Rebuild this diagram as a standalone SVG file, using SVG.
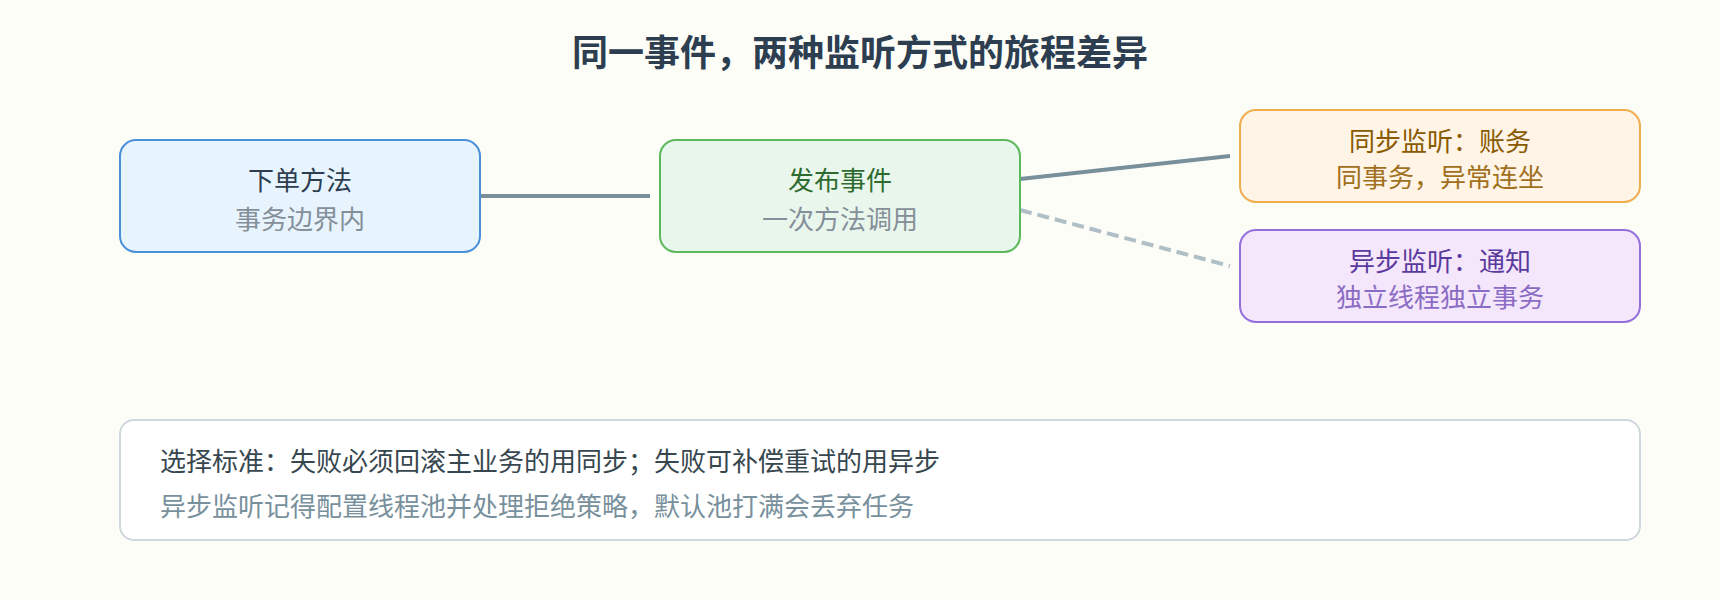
<svg xmlns="http://www.w3.org/2000/svg" width="1720" height="600" viewBox="0 0 1720 600">
<style>
text{font-family:"Noto Sans CJK SC","Noto Sans",sans-serif;text-anchor:middle}
.title{font-size:36px;font-weight:bold;fill:#2c3e50}
.t{font-size:26px}
.sub{font-size:26px;fill:#848f99}
.link{stroke:#78909c;stroke-width:4;fill:none}
.dash{stroke:#b0bec5;stroke-width:4;stroke-dasharray:12 6;fill:none}
</style>
<rect width="1720" height="600" fill="#fdfdf8"/>
<text class="title" x="860" y="66">同一事件，两种监听方式的旅程差异</text>
<g id="connectors">
<line class="link" x1="480" y1="196" x2="650" y2="196"/>
<line class="link" x1="1020" y1="179" x2="1230" y2="156"/>
<line class="dash" x1="1020" y1="210" x2="1230" y2="266"/>
</g>
<g id="node-order">
<rect x="120" y="140" width="360" height="112" rx="16" fill="#e8f4fd" stroke="#4a90d9" stroke-width="2"/>
<text class="t" x="300" y="190" fill="#2c3e50">下单方法</text>
<text class="sub" x="300" y="229">事务边界内</text>
</g>
<g id="node-publish">
<rect x="660" y="140" width="360" height="112" rx="16" fill="#e9f6ec" stroke="#5cb85c" stroke-width="2"/>
<text class="t" x="840" y="190" fill="#2e6b30">发布事件</text>
<text class="sub" x="840" y="229">一次方法调用</text>
</g>
<g id="node-sync">
<rect x="1240" y="110" width="400" height="92" rx="16" fill="#fff4e6" stroke="#f0ad4e" stroke-width="2"/>
<text class="t" x="1440" y="151" fill="#8a5a00">同步监听：账务</text>
<text class="t" x="1440" y="187" fill="#a0701c">同事务，异常连坐</text>
</g>
<g id="node-async">
<rect x="1240" y="230" width="400" height="92" rx="16" fill="#f4e6fb" stroke="#9370db" stroke-width="2"/>
<text class="t" x="1440" y="271" fill="#5b3a9e">异步监听：通知</text>
<text class="t" x="1440" y="307" fill="#8b6cc4">独立线程独立事务</text>
</g>
<g id="note">
<rect x="120" y="420" width="1520" height="120" rx="14" fill="#ffffff" stroke="#cfd8dc" stroke-width="2"/>
<text class="t" x="160" y="471" fill="#37474f" style="text-anchor:start">选择标准：失败必须回滚主业务的用同步；失败可补偿重试的用异步</text>
<text class="t" x="160" y="516" fill="#78909c" style="text-anchor:start">异步监听记得配置线程池并处理拒绝策略，默认池打满会丢弃任务</text>
</g>
</svg>
